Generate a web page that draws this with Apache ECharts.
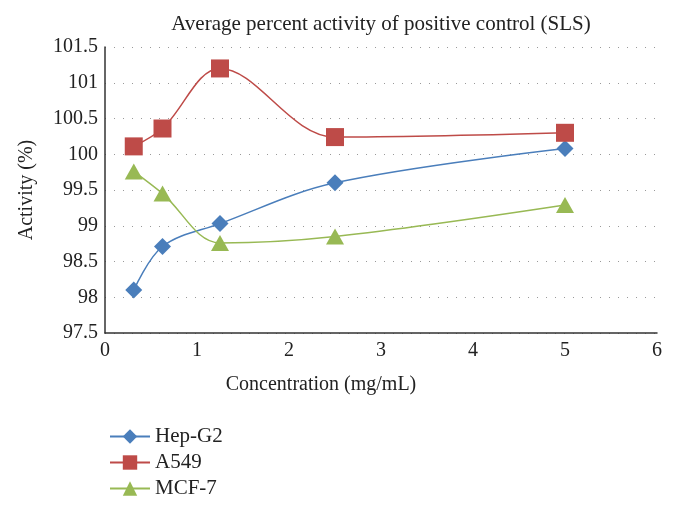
<!DOCTYPE html>
<html>
<head>
<meta charset="utf-8">
<title>SLS activity</title>
<script src="https://cdn.jsdelivr.net/npm/echarts@6/dist/echarts.min.js"></script>
<style>
html, body { margin: 0; padding: 0; background: #fff; }
#main { width: 674px; height: 511px; }
</style>
</head>
<body>
<div id="main"></div>
<script type="text/javascript">
// 数据
var concentrations = [0.3125, 0.625, 1.25, 2.5, 5];
var hepG2 = [98.10, 98.71, 99.03, 99.60, 100.08];
var a549 = [100.11, 100.36, 101.20, 100.24, 100.30];
var mcf7 = [99.76, 99.45, 98.76, 98.85, 99.29];
var seriesNames = ['Hep-G2', 'A549', 'MCF-7'];

function pairs(ys) {
    return concentrations.map(function (x, i) { return [x, ys[i]]; });
}

var font = 'Liberation Serif';
var myChart = echarts.init(document.getElementById('main'));

var option = {
    backgroundColor: '#fff',
    animation: false,
    title: {
        text: 'Average percent activity of positive control (SLS)',
        left: 376,
        textAlign: 'center',
        top: 9,
        textStyle: { fontFamily: font, fontWeight: 'normal', fontSize: 21, color: '#222' }
    },
    grid: { left: 105, right: 17, top: 47, bottom: 178 },
    legend: {
        orient: 'vertical',
        left: 104,
        top: 421,
        itemGap: 5,
        itemWidth: 40,
        itemHeight: 18,
        data: seriesNames,
        textStyle: { fontFamily: font, fontSize: 21, color: '#222' }
    },
    xAxis: {
        type: 'value',
        min: 0, max: 6, interval: 1,
        name: 'Concentration (mg/mL)',
        nameLocation: 'middle',
        nameGap: 42,
        nameTextStyle: { fontFamily: font, fontSize: 20, color: '#222', padding: [0, 120, 0, 0] },
        axisLine: { lineStyle: { color: '#333', width: 1.5 } },
        axisTick: { show: false },
        axisLabel: { fontFamily: font, fontSize: 20, color: '#222', margin: 8 },
        splitLine: { show: false }
    },
    yAxis: {
        type: 'value',
        min: 97.5, max: 101.5, interval: 0.5,
        name: 'Activity (%)',
        nameLocation: 'middle',
        nameGap: 68,
        nameTextStyle: { fontFamily: font, fontSize: 20, color: '#222' },
        axisLine: { show: true, lineStyle: { color: '#333', width: 1.5 } },
        axisTick: { show: false },
        axisLabel: { fontFamily: font, fontSize: 20, color: '#222', margin: 7 },
        splitLine: { show: true, lineStyle: { color: '#999', type: [1, 8], width: 1.2 } }
    },
    series: [
        {
            name: seriesNames[0], type: 'line', smooth: 0.35,
            data: pairs(hepG2),
            symbol: 'diamond', symbolSize: [17, 17],
            itemStyle: { color: '#4A7EBB' },
            lineStyle: { color: '#4A7EBB', width: 1.5 }
        },
        {
            name: seriesNames[1], type: 'line', smooth: 0.35,
            data: pairs(a549),
            symbol: 'rect', symbolSize: 18,
            itemStyle: { color: '#BE4B48' },
            lineStyle: { color: '#BE4B48', width: 1.5 }
        },
        {
            name: seriesNames[2], type: 'line', smooth: 0.35,
            data: pairs(mcf7),
            symbol: 'triangle', symbolSize: [18, 16],
            itemStyle: { color: '#98B954' },
            lineStyle: { color: '#98B954', width: 1.5 }
        }
    ]
};

myChart.setOption(option);
</script>
</body>
</html>
